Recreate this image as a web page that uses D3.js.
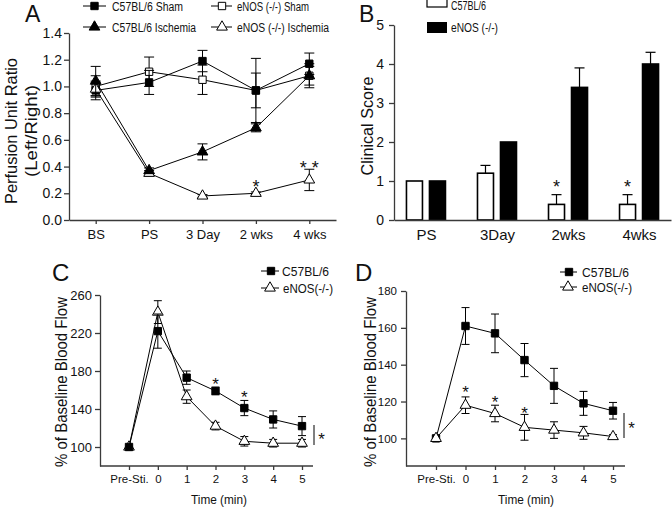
<!DOCTYPE html>
<html><head><meta charset="utf-8">
<script src="https://cdn.jsdelivr.net/npm/d3@7"></script>
<style>body{margin:0;background:#fff}svg{display:block}text{font-family:Arial,'Liberation Sans',sans-serif}</style>
</head><body><svg id="c" width="672" height="510"></svg>
<script>
// ---------- Panel A data ----------
const aCategories = ["BS","PS","3 Day","2 wks","4 wks"];
const aC57Sham = [0.97,1.03,1.19,0.97,1.17];
const aC57ShamErr = [0.07,0.09,0.08,0.13,0.08];
const aEnosSham = [1.00,1.11,1.05,0.97,1.08];
const aEnosShamErr = [0.08,0.11,0.11,0.24,0.09];
const aC57Isch = [1.04,0.37,0.51,0.69,1.08];
const aC57IschErr = [0.11,0.02,0.06,0.03,0.07];
const aEnosIsch = [0.98,0.35,0.18,0.20,0.30];
const aEnosIschErr = [0.05,0.02,0.01,0.01,0.08];
const aYTicks = [0,0.2,0.4,0.6,0.8,1.0,1.2,1.4];
// ---------- Panel B data ----------
const bCategories = ["PS","3Day","2wks","4wks"];
const bC57 = [1.0,1.2,0.4,0.4];
const bC57Err = [0,0.2,0.25,0.25];
const bEnos = [1.0,2.0,3.4,4.0];
const bEnosErr = [0,0,0.5,0.3];
const bYTicks = [0,1,2,3,4,5];
// ---------- Panel C data ----------
const timeCategories = ["Pre-Sti.","0","1","2","3","4","5"];
const cC57 = [100,222,173,159,141,129,122];
const cC57Err = [0,18,7,4,8,9,10];
const cEnos = [100,242,153,122,106,104,104];
const cEnosErr = [0,12,7,4,5,4,4];
const cYTicks = [100,140,180,220,260];
// ---------- Panel D data ----------
const dC57 = [100,161,157,142.5,128.5,119,115];
const dC57Err = [0,10,10.5,9,9.5,6.5,4.5];
const dEnos = [100,118,113.5,106,104.5,103,101];
const dEnosErr = [0,4.5,4.5,7,4.5,3.5,1];
const dYTicks = [100,120,140,160,180];

const svg = d3.select("#c");
const FONT = "Arial, 'Liberation Sans', sans-serif";
const AX = "#3a3a3a";

function styleAxis(g, fs){
  g.attr("font-family", FONT).attr("font-size", fs);
  g.selectAll("path,line").attr("stroke", AX).attr("stroke-width", 1.3);
  g.selectAll("text").attr("fill", "#111");
}
function marker(g, x, y, shape, filled){
  const type = shape === "square" ? d3.symbolSquare : d3.symbolTriangle;
  const size = shape === "square" ? 54 : 50;
  g.append("path").attr("d", d3.symbol().type(type).size(size)())
    .attr("transform", `translate(${x},${y})`)
    .attr("fill", filled ? "#000" : "#fff").attr("stroke", "#000").attr("stroke-width", 1);
}
function series(g, x, y, cats, vals, errs, shape, filled, cap){
  g.append("path").datum(cats.map((c,i)=>[x(c), y(vals[i])]))
    .attr("d", d3.line()).attr("fill","none").attr("stroke","#000").attr("stroke-width",1);
  cats.forEach((c,i)=>{
    if(!errs[i]) return;
    const cx = x(c), y1 = y(vals[i]+errs[i]), y2 = y(vals[i]-errs[i]);
    g.append("line").attr("x1",cx).attr("x2",cx).attr("y1",y1).attr("y2",y2).attr("stroke","#000").attr("stroke-width",1);
    [y1,y2].forEach(yy=>g.append("line").attr("x1",cx-cap).attr("x2",cx+cap).attr("y1",yy).attr("y2",yy).attr("stroke","#000").attr("stroke-width",1));
  });
  cats.forEach((c,i)=>marker(g, x(c), y(vals[i]), shape, filled));
}
function star(g, x, yc, txt, fs){
  g.append("text").attr("x",x).attr("y",yc+0.58*fs).attr("text-anchor","middle")
    .attr("font-size",fs).attr("font-family",FONT).attr("fill","#111").text(txt);
}
function label(g, x, y, txt, fs, anchor, len){
  const t = g.append("text").attr("x",x).attr("y",y).attr("text-anchor",anchor||"start")
    .attr("font-size",fs).attr("font-family",FONT).attr("fill","#111").text(txt);
  if(len) t.attr("textLength",len).attr("lengthAdjust","spacingAndGlyphs");
  return t;
}
function vlabel(g, x, y, txt, fs, len){
  const t = g.append("text").attr("transform",`translate(${x},${y}) rotate(-90)`).attr("text-anchor","middle")
    .attr("font-size",fs).attr("font-family",FONT).attr("fill","#111").text(txt);
  if(len) t.attr("textLength",len).attr("lengthAdjust","spacingAndGlyphs");
}
function legendLine(g, x1, x2, y, mx, shape, filled, txt, tx, fs, len){
  g.append("line").attr("x1",x1).attr("x2",x2).attr("y1",y).attr("y2",y).attr("stroke","#000").attr("stroke-width",1);
  marker(g, mx, y, shape, filled);
  label(g, tx, y+0.36*fs, txt, fs, "start", len);
}

// =============== Panel A ===============
{
  const g = svg.append("g");
  const x = d3.scalePoint().domain(aCategories).range([69,336]).padding(0.5);
  const y = d3.scaleLinear().domain([0,1.4]).range([220,33]);
  g.append("g").attr("transform","translate(0,220)")
    .call(d3.axisBottom(x).tickSize(4).tickSizeOuter(0).tickPadding(6)).call(a=>styleAxis(a,13));
  g.append("g").attr("transform","translate(69,0)")
    .call(d3.axisLeft(y).tickValues(aYTicks).tickFormat(d3.format(".1f")).tickSize(5).tickSizeOuter(0).tickPadding(2))
    .call(a=>styleAxis(a,14));
  series(g,x,y,aCategories,aEnosSham,aEnosShamErr,"square",false,5);
  series(g,x,y,aCategories,aC57Sham,aC57ShamErr,"square",true,5);
  series(g,x,y,aCategories,aEnosIsch,aEnosIschErr,"triangle",false,5);
  series(g,x,y,aCategories,aC57Isch,aC57IschErr,"triangle",true,5);
  star(g, x("2 wks"), 183, "*", 18);
  star(g, x("4 wks"), 164, "* *", 18);
  vlabel(g, 17, 131, "Perfusion Unit Ratio", 17, 146);
  vlabel(g, 37, 131, "(Left/Right)", 17, 92);
  label(g, 25, 21.5, "A", 23);
  legendLine(g, 83, 106, 6, 94.5, "square", true, "C57BL/6 Sham", 112, 12.5, 71);
  legendLine(g, 211, 232, 6, 222, "square", false, "eNOS (-/-) Sham", 237, 12.5, 72);
  legendLine(g, 83, 106, 27, 94.5, "triangle", true, "C57BL/6 Ischemia", 112, 12.5, 84);
  legendLine(g, 211, 232, 27, 222, "triangle", false, "eNOS (-/-) Ischemia", 237, 12.5, 92);
}
// =============== Panel B ===============
{
  const g = svg.append("g");
  const x = d3.scalePoint().domain(bCategories).range([394,671]).padding(0.45);
  const y = d3.scaleLinear().domain([0,5]).range([220,25]);
  const bw = 16;
  bCategories.forEach((c,i)=>{
    const cx = x(c);
    [[bC57,bC57Err,-19.5,"#fff"],[bEnos,bEnosErr,3.5,"#000"]].forEach(([v,e,off,fill])=>{
      const bx = cx+off, mid = bx+bw/2;
      if(e[i]){
        g.append("line").attr("x1",mid).attr("x2",mid).attr("y1",y(v[i])).attr("y2",y(v[i]+e[i])).attr("stroke","#000").attr("stroke-width",1.2);
        g.append("line").attr("x1",mid-5).attr("x2",mid+5).attr("y1",y(v[i]+e[i])).attr("y2",y(v[i]+e[i])).attr("stroke","#000").attr("stroke-width",1.2);
      }
      g.append("rect").attr("x",bx).attr("y",y(v[i])).attr("width",bw).attr("height",y(0)-y(v[i]))
        .attr("fill",fill).attr("stroke","#000").attr("stroke-width",1.6);
    });
  });
  g.append("g").attr("transform","translate(0,220)")
    .call(d3.axisBottom(x).tickSize(0).tickSizeOuter(0).tickPadding(9)).call(a=>styleAxis(a,15));
  g.append("g").attr("transform","translate(394,0)")
    .call(d3.axisLeft(y).tickValues(bYTicks).tickFormat(d3.format("d")).tickSize(5).tickSizeOuter(0).tickPadding(5))
    .call(a=>styleAxis(a,14));
  star(g, x("2wks")-11.5, 183, "*", 18);
  star(g, x("4wks")-11.5, 183, "*", 18);
  vlabel(g, 373, 126, "Clinical Score", 17, 99);
  label(g, 359, 21.5, "B", 23);
  g.append("rect").attr("x",427).attr("y",-3).attr("width",20).attr("height",10).attr("fill","#fff").attr("stroke","#000").attr("stroke-width",1.2);
  label(g, 451, 10, "C57BL/6", 12, "start", 35);
  g.append("rect").attr("x",427).attr("y",22).attr("width",20).attr("height",11).attr("fill","#000");
  label(g, 451, 31.5, "eNOS (-/-)", 12, "start", 47);
}
// =============== Panel C ===============
{
  const g = svg.append("g");
  const x = d3.scalePoint().domain(timeCategories).range([129,302]);
  const y = d3.scaleLinear().domain([80,260]).range([466,295]);
  const ax = g.append("g").attr("transform","translate(0,466)")
    .call(d3.axisBottom(x).tickSize(4).tickSizeOuter(0).tickPadding(5)).call(a=>styleAxis(a,11.5));
  ax.select(".domain").remove();
  g.append("line").attr("x1",100).attr("x2",313).attr("y1",466).attr("y2",466).attr("stroke",AX).attr("stroke-width",1.3);
  g.append("g").attr("transform","translate(100,0)")
    .call(d3.axisLeft(y).tickValues(cYTicks).tickSize(5).tickSizeOuter(0).tickPadding(3))
    .call(a=>styleAxis(a,13));
  series(g,x,y,timeCategories,cEnos,cEnosErr,"triangle",false,4);
  series(g,x,y,timeCategories,cC57,cC57Err,"square",true,4);
  star(g, x("2"), 380, "*", 17);
  star(g, x("3"), 393, "*", 17);
  g.append("line").attr("x1",314).attr("x2",314).attr("y1",425).attr("y2",445).attr("stroke","#000").attr("stroke-width",1);
  star(g, 321.5, 435, "*", 17);
  label(g, 219, 504, "Time (min)", 13, "middle", 56);
  vlabel(g, 67, 382, "% of Baseline Blood Flow", 17, 170);
  label(g, 52, 281, "C", 24);
  legendLine(g, 261, 279, 271, 271, "square", true, "C57BL/6", 282, 12.5, 47);
  legendLine(g, 261, 279, 288, 270, "triangle", false, "eNOS(-/-)", 283, 12.5, 50);
}
// =============== Panel D ===============
{
  const g = svg.append("g");
  const x = d3.scalePoint().domain(timeCategories).range([436,613]);
  const y = d3.scaleLinear().domain([85,180]).range([466,291]);
  const ax = g.append("g").attr("transform","translate(0,466)")
    .call(d3.axisBottom(x).tickSize(4).tickSizeOuter(0).tickPadding(5)).call(a=>styleAxis(a,11.5));
  ax.select(".domain").remove();
  g.append("line").attr("x1",406).attr("x2",625).attr("y1",466).attr("y2",466).attr("stroke",AX).attr("stroke-width",1.3);
  g.append("g").attr("transform","translate(406,0)")
    .call(d3.axisLeft(y).tickValues(dYTicks).tickSize(5).tickSizeOuter(0).tickPadding(4))
    .call(a=>styleAxis(a,11.5));
  series(g,x,y,timeCategories,dC57,dC57Err,"square",true,4);
  series(g,x,y,timeCategories,dEnos,dEnosErr,"triangle",false,4);
  star(g, x("0"), 388, "*", 17);
  star(g, x("1"), 398, "*", 17);
  star(g, x("2"), 409, "*", 17);
  g.append("line").attr("x1",624).attr("x2",624).attr("y1",413).attr("y2",438).attr("stroke","#000").attr("stroke-width",1);
  star(g, 631.5, 424, "*", 17);
  label(g, 526, 504, "Time (min)", 13, "middle", 56);
  vlabel(g, 376, 382, "% of Baseline Blood Flow", 17, 170);
  label(g, 355, 281, "D", 24);
  legendLine(g, 560, 577, 272, 569, "square", true, "C57BL/6", 582, 12.5, 47);
  legendLine(g, 560, 577, 287, 568, "triangle", false, "eNOS(-/-)", 582, 12.5, 50);
}
</script></body></html>
